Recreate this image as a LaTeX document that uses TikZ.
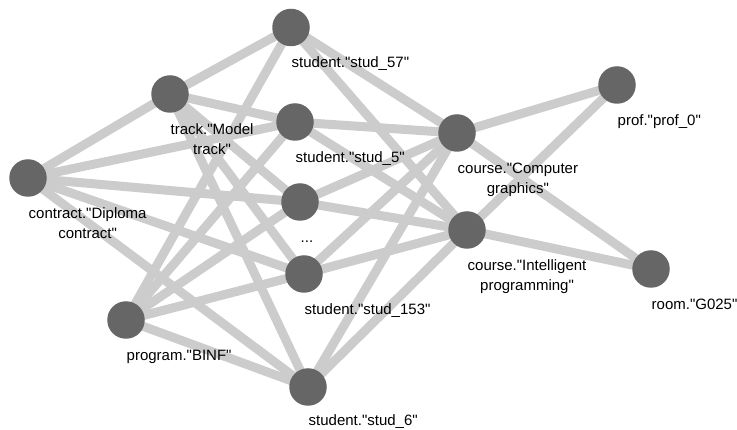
\documentclass[tikz,border=0pt]{standalone}
\usepackage{fontspec}
\newfontfamily\lblfont{Liberation Sans}
\usetikzlibrary{backgrounds}
\definecolor{nodegray}{HTML}{666666}
\definecolor{edgegray}{HTML}{CCCCCC}
\begin{document}
\begin{tikzpicture}[x=1pt,y=-1pt,
  vertex/.style={circle,fill=nodegray,draw=none,minimum size=37.5pt,inner sep=0pt},
  link/.style={draw=edgegray,line width=9pt},
  lbl/.style={inner sep=0pt,font=\lblfont\fontsize{15}{20}\selectfont,text=black},
  first/.style={lbl,anchor=base west},
  second/.style={lbl,anchor=base}]
\useasboundingbox (0,0) rectangle (737,430);

% vertices
\node[vertex] (s57)      at (291,27.5) {};
\node[vertex] (track)    at (170,94)   {};
\node[vertex] (s5)       at (295,122)  {};
\node[vertex] (contract) at (28,178)   {};
\node[vertex] (dots)     at (300,202)  {};
\node[vertex] (s153)     at (304,274)  {};
\node[vertex] (prog)     at (126,320)  {};
\node[vertex] (s6)       at (308,387)  {};
\node[vertex] (cg)       at (457,133)  {};
\node[vertex] (ip)       at (467,230)  {};
\node[vertex] (prof)     at (617,85)   {};
\node[vertex] (room)     at (651,269)  {};

% captions below each vertex
\node[first] (s57l) at ([xshift=0.5pt,yshift=-40.5pt]s57.center) {student."stud\_57"};
\node[first] (trackl) at ([xshift=0.5pt,yshift=-40.5pt]track.center) {track."Model};
\node[second] (trackl2) at ([yshift=-20pt]trackl.base) {track"};
\node[first] (s5l) at ([xshift=0.5pt,yshift=-40.5pt]s5.center) {student."stud\_5"};
\node[first] (contractl) at ([xshift=0.5pt,yshift=-40.5pt]contract.center) {contract."Diploma};
\node[second] (contractl2) at ([yshift=-20pt]contractl.base) {contract"};
\node[first] (dotsl) at ([xshift=0.5pt,yshift=-40.5pt]dots.center) {...};
\node[first] (s153l) at ([xshift=0.5pt,yshift=-40.5pt]s153.center) {student."stud\_153"};
\node[first] (progl) at ([xshift=0.5pt,yshift=-40.5pt]prog.center) {program."BINF"};
\node[first] (s6l) at ([xshift=0.5pt,yshift=-38.5pt]s6.center) {student."stud\_6"};
\node[first] (cgl) at ([xshift=0.5pt,yshift=-40.5pt]cg.center) {course."Computer};
\node[second] (cgl2) at ([yshift=-20pt]cgl.base) {graphics"};
\node[first] (ipl) at ([xshift=0.5pt,yshift=-40.5pt]ip.center) {course."Intelligent};
\node[second] (ipl2) at ([yshift=-20pt]ipl.base) {programming"};
\node[first] (profl) at ([xshift=0.5pt,yshift=-40.5pt]prof.center) {prof."prof\_0"};
\node[first] (rooml) at ([xshift=0.5pt,yshift=-40.5pt]room.center) {room."G025"};

% connections, kept behind the vertices
\begin{scope}[on background layer]
  \foreach \s in {s5,dots,s153,s6} \draw[link] (contract.center) -- (\s.center);
  \draw[link] (contract.center) -- (track.center);
  \foreach \s in {s57,s5,dots,s153,s6} {
    \draw[link] (track.center) -- (\s.center);
    \draw[link] (prog.center) -- (\s.center);
    \draw[link] (cg.center) -- (\s.center);
    \draw[link] (ip.center) -- (\s.center);
  }
  \foreach \c in {cg,ip} {
    \draw[link] (\c.center) -- (prof.center);
    \draw[link] (\c.center) -- (room.center);
  }
\end{scope}
\end{tikzpicture}
\end{document}
